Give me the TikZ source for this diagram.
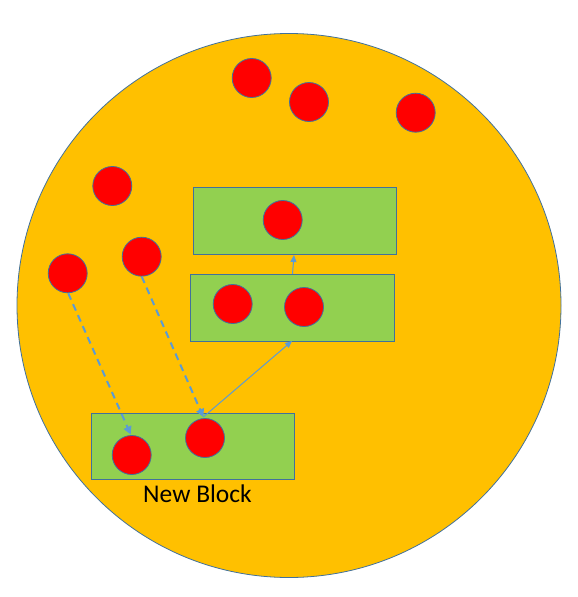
\documentclass[tikz,border=0pt]{standalone}
\usepackage{fontspec}
\setmainfont{Carlito}
\usetikzlibrary{arrows.meta}
\definecolor{orng}{HTML}{FFC000}
\definecolor{grn}{HTML}{92D050}
\definecolor{edge}{HTML}{41719C}
\definecolor{arr}{HTML}{5B9BD5}
\tikzset{
  ball/.style={circle,fill=red,draw=edge,line width=0.8pt,minimum size=39pt,inner sep=0pt},
  block/.style={fill=grn,draw=edge,line width=0.8pt},
  link/.style={draw=arr,line width=1pt,-{Triangle[length=7pt,width=6pt]}},
  dlink/.style={link,line width=2pt,dash pattern=on 7pt off 5pt,-{Triangle[length=8pt,width=8pt]}}
}
\begin{document}
\begin{tikzpicture}[x=1pt,y=-1pt]
\useasboundingbox (0,0) rectangle (578,597);
\node[circle,fill=orng,draw=edge,line width=0.8pt,minimum size=544pt,inner sep=0pt] (world) at (289,305.5) {};
\node[block,minimum width=203pt,minimum height=67pt,inner sep=0pt] (top) at (295,220.8) {};
\node[block,minimum width=204pt,minimum height=67pt,inner sep=0pt] (mid) at (292.3,308) {};
\node[block,minimum width=203pt,minimum height=66pt,inner sep=0pt] (new) at (193,446) {};
\node[ball] (c1) at (251.7,78) {};
\node[ball] (c2) at (309,102) {};
\node[ball] (c3) at (415.7,112.7) {};
\node[ball] (c4) at (112.3,186) {};
\node[ball] (a) at (67.7,273.3) {};
\node[ball] (b) at (141.7,256.7) {};
\node[ball] (t1) at (282.7,220) {};
\node[ball] (m1) at (232.7,304) {};
\node[ball] (m2) at (304,307) {};
\node[ball] (n1) at (131.7,455) {};
\node[ball] (n2) at (205,438) {};
\node[font=\fontsize{25.5}{30}\selectfont,anchor=base,inner sep=0pt] (lbl) at (197.5,502.7) {New Block};
\coordinate (pA) at (130.7,434.5);
\coordinate (pB) at (203.3,417);
\coordinate (pM) at (292,341);
\coordinate (pT) at (294,255);
\draw[dlink] (a.south) ++(0.5,0) -- (pA);
\draw[dlink] (b.south) -- (pB);
\draw[link] (pB) -- (pM);
\draw[link] (pM) ++(0.5,-67) -- (pT);
\end{tikzpicture}
\end{document}
